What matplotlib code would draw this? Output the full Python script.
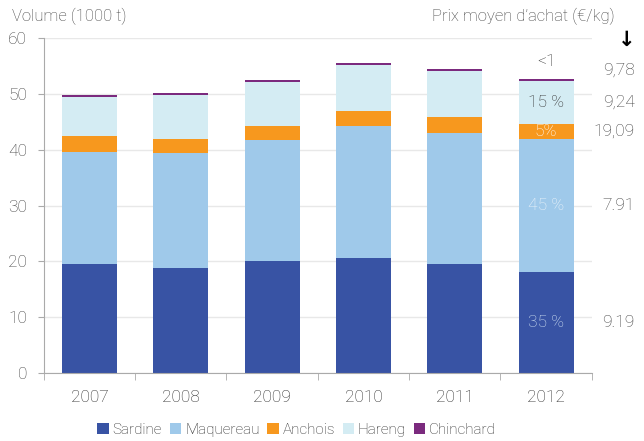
import numpy as np
import matplotlib.pyplot as plt

plt.rcParams['font.family'] = ['Roboto', 'DejaVu Sans']
plt.rcParams['font.weight'] = 'light'

years = ['2007', '2008', '2009', '2010', '2011', '2012']
sardine = [19.5, 18.8, 20.1, 20.6, 19.5, 18.1]
maquereau = [20.1, 20.6, 21.6, 23.6, 23.5, 23.8]
anchois = [2.9, 2.5, 2.5, 2.7, 2.9, 2.7]
hareng = [6.9, 7.9, 7.9, 8.3, 8.2, 7.7]
chinchard = [0.4, 0.4, 0.4, 0.4, 0.4, 0.4]

series = [('Sardine', sardine, '#3853a4'),
          ('Maquereau', maquereau, '#9fc9ea'),
          ('Anchois', anchois, '#f7981e'),
          ('Hareng', hareng, '#d4ecf3'),
          ('Chinchard', chinchard, '#7b2a7e')]

# share labels on the 2012 bar, and average purchase prices on the right
share_labels = ['35 %', '45 %', '5%', '15 %', '<1']
share_colors = ['#d2e3f4', '#eef5fb', 'white', '#333333', '#333333']
prices = ['9.19', '7.91', '19,09', '9,24', '9,78']

grey = '#404040'
fig = plt.figure(figsize=(6.44, 4.41), dpi=100)
ax = fig.add_axes([0.068, 0.154, 0.851, 0.760])

x = np.arange(len(years))
bottom = np.zeros(len(years))
mids = []
for name, vals, col in series:
    vals = np.array(vals)
    ax.bar(x, vals, 0.6, bottom=bottom, color=col, label=name, zorder=2)
    mids.append(bottom[-1] + vals[-1] / 2)
    bottom = bottom + vals

# labels inside the 2012 bar
for i, (lab, c) in enumerate(zip(share_labels, share_colors)):
    y = mids[i] if i < 4 else bottom[-1] + 3.0
    ax.text(x[-1], y, lab, ha='center', va='center', color=c, fontsize=12.5)

# price column to the right of the plot
for i, p in enumerate(prices):
    y = mids[i] if i < 4 else bottom[-1] + 1.6
    ax.text(1.078, y, p, transform=ax.get_yaxis_transform(), ha='right',
            va='center', color=grey, fontsize=12.5, clip_on=False)
ax.text(1.064, 59.6, '\u2193', transform=ax.get_yaxis_transform(), ha='center',
        va='center', color='black', fontsize=15, fontweight='bold', clip_on=False)

ax.set_xlim(-0.5, 5.5)
ax.set_ylim(0, 60)
ax.set_yticks(range(0, 61, 10))
ax.set_xticks(x)
ax.set_xticklabels(years)
ax.set_xticks(np.arange(-0.5, 6, 1), minor=True)
ax.tick_params(axis='x', which='major', length=0, pad=12, labelsize=12.5, labelcolor='#2a2a2a')
ax.tick_params(axis='x', which='minor', length=5, color='#aaaaaa')
ax.tick_params(axis='y', length=4, color='#aaaaaa', labelsize=12.5, labelcolor=grey, pad=8)
ax.grid(axis='y', color='#e8e8e8', linewidth=1, zorder=0)
for s in ['top', 'right']:
    ax.spines[s].set_visible(False)
ax.spines['left'].set_color('#aaaaaa')
ax.spines['bottom'].set_color('#aaaaaa')

fig.text(0.018, 0.962, 'Volume (1000 t)', color=grey, fontsize=12, va='center')
fig.text(0.955, 0.962, 'Prix moyen d\u2019achat (\u20ac/kg)', color=grey, fontsize=12,
         va='center', ha='right')

fig.legend(loc='center left', bbox_to_anchor=(0.13, 0.025), ncol=5, frameon=False,
           fontsize=11, handlelength=0.75, handleheight=0.75, handletextpad=0.25,
           columnspacing=0.5, labelcolor='#2a2a2a')

fig.savefig('out.png', dpi=100)
